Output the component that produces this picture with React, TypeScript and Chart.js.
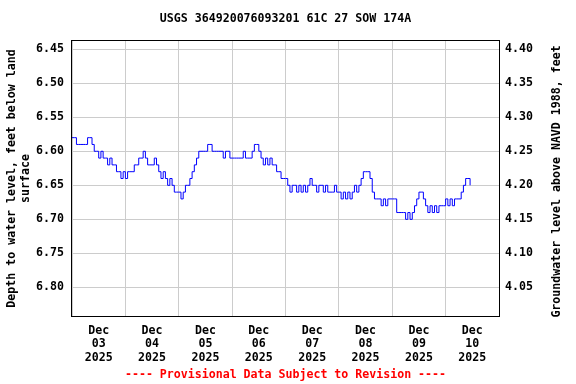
import React, { useEffect, useRef } from "react";
import { Chart, registerables } from "chart.js";

Chart.register(...registerables);

const TITLE = "USGS 364920076093201 61C 27 SOW 174A";
const LEFT_TITLE = ["Depth to water level, feet below land", "surface"];
const RIGHT_TITLE = "Groundwater level above NAVD 1988, feet";
const FOOTER = "---- Provisional Data Subject to Revision ----";

const DAY_LABELS = [
  ["Dec", "03", "2025"],
  ["Dec", "04", "2025"],
  ["Dec", "05", "2025"],
  ["Dec", "06", "2025"],
  ["Dec", "07", "2025"],
  ["Dec", "08", "2025"],
  ["Dec", "09", "2025"],
  ["Dec", "10", "2025"],
];

// Hourly depth to water (ft below land surface), one array per day
const DEC03 = [6.58, 6.58, 6.59, 6.59, 6.59, 6.59, 6.59, 6.58, 6.58, 6.59, 6.60, 6.60, 6.61, 6.60, 6.61, 6.61, 6.62, 6.61, 6.62, 6.62, 6.63, 6.63, 6.64, 6.63];
const DEC04 = [6.64, 6.63, 6.63, 6.63, 6.62, 6.62, 6.61, 6.61, 6.60, 6.61, 6.62, 6.62, 6.62, 6.61, 6.62, 6.63, 6.64, 6.63, 6.64, 6.65, 6.64, 6.65, 6.66, 6.66];
const DEC05 = [6.66, 6.67, 6.66, 6.65, 6.65, 6.64, 6.63, 6.62, 6.61, 6.60, 6.60, 6.60, 6.60, 6.59, 6.59, 6.60, 6.60, 6.60, 6.60, 6.60, 6.61, 6.60, 6.60, 6.61];
const DEC06 = [6.61, 6.61, 6.61, 6.61, 6.61, 6.60, 6.61, 6.61, 6.61, 6.60, 6.59, 6.59, 6.60, 6.61, 6.62, 6.61, 6.62, 6.61, 6.62, 6.62, 6.63, 6.63, 6.64, 6.64];
const DEC07 = [6.64, 6.65, 6.66, 6.65, 6.65, 6.66, 6.65, 6.66, 6.65, 6.66, 6.65, 6.64, 6.65, 6.65, 6.66, 6.65, 6.65, 6.66, 6.65, 6.66, 6.66, 6.66, 6.65, 6.66];
const DEC08 = [6.66, 6.67, 6.66, 6.67, 6.66, 6.67, 6.66, 6.65, 6.66, 6.65, 6.64, 6.63, 6.63, 6.63, 6.64, 6.66, 6.67, 6.67, 6.67, 6.68, 6.67, 6.68, 6.67, 6.67];
const DEC09 = [6.67, 6.67, 6.69, 6.69, 6.69, 6.69, 6.70, 6.69, 6.70, 6.69, 6.68, 6.67, 6.66, 6.66, 6.67, 6.68, 6.69, 6.68, 6.69, 6.68, 6.69, 6.68, 6.68, 6.68];
const DEC10 = [6.67, 6.68, 6.67, 6.68, 6.67, 6.67, 6.67, 6.66, 6.65, 6.64, 6.64, 6.65];

const DAYS = [DEC03, DEC04, DEC05, DEC06, DEC07, DEC08, DEC09, DEC10];

const DEPTH_TICKS = [6.45, 6.5, 6.55, 6.6, 6.65, 6.7, 6.75, 6.8];
const ELEV_TICKS = [4.05, 4.1, 4.15, 4.2, 4.25, 4.3, 4.35, 4.4];
const DATUM = 10.85; // elevation = DATUM - depth
const DEPTH_TOP = 6.438;
const DEPTH_BOTTOM = 6.842;
const HOURS_SPAN = 192;

const FONT = "'DejaVu Sans Mono', 'Liberation Mono', monospace";
const FSIZE = 11.6;

export default function App() {
  const ref = useRef<HTMLCanvasElement | null>(null);

  useEffect(() => {
    if (!ref.current) return;
    const points: { x: number; y: number }[] = [];
    DAYS.forEach((day, d) => {
      day.forEach((v, h) => points.push({ x: d * 24 + h, y: v }));
    });

    const decor = {
      id: "decor",
      afterDraw(chart: any) {
        const { ctx, chartArea } = chart;
        const { left, top, right, bottom } = chartArea;
        ctx.save();
        ctx.strokeStyle = "#000000";
        ctx.lineWidth = 1;
        const l = Math.round(left) - 0.5;
        const t = Math.round(top) - 0.5;
        const r = Math.round(right) + 0.5;
        const b = Math.round(bottom) + 0.5;
        ctx.strokeRect(l, t, r - l, b - t);
        ctx.fillStyle = "#000000";
        ctx.font = `bold ${FSIZE}px ${FONT}`;
        ctx.textAlign = "center";
        ctx.textBaseline = "middle";
        ctx.fillText(TITLE, (left + right) / 2, 19);
        ctx.translate(557, (top + bottom) / 2 + 3);
        ctx.rotate(-Math.PI / 2);
        ctx.fillText(RIGHT_TITLE, 0, 0);
        ctx.restore();
      },
    };

    const chart = new Chart(ref.current, {
      type: "line",
      data: {
        datasets: [
          {
            data: points,
            xAxisID: "xh",
            yAxisID: "y",
            borderColor: "#0000ff",
            borderWidth: 1,
            pointRadius: 0,
            stepped: true,
            fill: false,
          },
        ],
      },
      options: {
        animation: false,
        responsive: false,
        devicePixelRatio: 1,
        layout: { padding: { top: 41, left: 0, right: 0, bottom: 0 } },
        plugins: {
          legend: { display: false },
          title: { display: false },
          tooltip: { enabled: false },
        },
        scales: {
          x: {
            type: "category",
            labels: DAY_LABELS as any,
            position: "bottom",
            offset: true,
            grid: { offset: true, color: "#cccccc", drawTicks: false },
            border: { display: false },
            ticks: {
              color: "#000000",
              font: { family: FONT, size: FSIZE, weight: "bold", lineHeight: 1.17 },
              padding: 8,
              maxRotation: 0,
              minRotation: 0,
              autoSkip: false,
            },
            title: {
              display: true,
              text: FOOTER,
              color: "#ff0000",
              font: { family: FONT, size: FSIZE, weight: "bold", lineHeight: 1.2 },
              padding: { top: 0, bottom: 2 },
            },
            afterFit(scale: any) {
              scale.height = 68;
            },
          },
          xh: {
            type: "linear",
            display: false,
            min: 0,
            max: HOURS_SPAN,
          },
          y: {
            type: "linear",
            position: "left",
            reverse: true,
            min: DEPTH_TOP,
            max: DEPTH_BOTTOM,
            grid: { color: "#cccccc", drawTicks: false },
            border: { display: false },
            afterBuildTicks(axis: any) {
              axis.ticks = DEPTH_TICKS.map((v) => ({ value: v }));
            },
            ticks: {
              color: "#000000",
              font: { family: FONT, size: FSIZE, weight: "bold" },
              padding: 8,
              callback: (v: any) => Number(v).toFixed(2),
            },
            title: {
              display: true,
              text: LEFT_TITLE,
              color: "#000000",
              font: { family: FONT, size: FSIZE, weight: "bold", lineHeight: 1.2 },
              padding: { top: 5, bottom: 0 },
            },
            afterFit(scale: any) {
              scale.width = 72;
            },
          },
          y2: {
            type: "linear",
            position: "right",
            min: DATUM - DEPTH_BOTTOM,
            max: DATUM - DEPTH_TOP,
            grid: { drawOnChartArea: false, drawTicks: false },
            border: { display: false },
            afterBuildTicks(axis: any) {
              axis.ticks = ELEV_TICKS.map((v) => ({ value: v }));
            },
            ticks: {
              color: "#000000",
              font: { family: FONT, size: FSIZE, weight: "bold" },
              padding: 6,
              callback: (v: any) => Number(v).toFixed(2),
            },
            afterFit(scale: any) {
              scale.width = 77;
            },
          },
        },
      } as any,
      plugins: [decor],
    });
    return () => chart.destroy();
  }, []);

  return (
    <div style={{ position: "fixed", left: 0, top: 0, width: 576, height: 384, background: "#ffffff" }}>
      <canvas ref={ref} width={576} height={384} style={{ width: 576, height: 384, display: "block" }} />
    </div>
  );
}
